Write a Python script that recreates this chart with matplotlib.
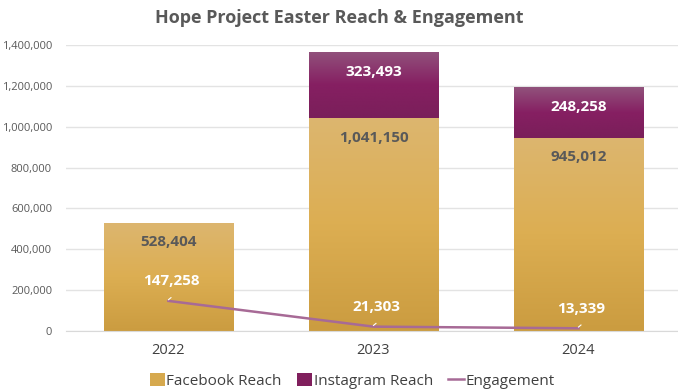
import matplotlib
matplotlib.use("Agg")
import matplotlib.pyplot as plt
import numpy as np
from matplotlib.colors import LinearSegmentedColormap
from matplotlib.patches import Patch
from matplotlib.lines import Line2D

plt.rcParams['font.family'] = ['Open Sans', 'DejaVu Sans']

years = ["2022", "2023", "2024"]
facebook = [528404, 1041150, 945012]
instagram = [0, 323493, 248258]
engagement = [147258, 21303, 13339]
yticks = [0, 200000, 400000, 600000, 800000, 1000000, 1200000, 1400000]

fig = plt.figure(figsize=(6.78, 3.92), dpi=100)
ax = fig.add_axes([66/678, 61/392, 615/678, 286/392])
x = np.arange(len(years))
w = 0.63

fb_cmap = LinearSegmentedColormap.from_list("fb", ["#CB9C40", "#DCAE52", "#DDB66F"])
ig_cmap = LinearSegmentedColormap.from_list("ig", ["#7A1F5A", "#861F62", "#91527C"])

def grad_bar(xc, bottom, height, cmap):
    if height <= 0:
        return
    bars = ax.bar(xc, height, w, bottom=bottom, color="none", zorder=2)
    p = bars[0]
    grad = np.linspace(0, 1, 256).reshape(-1, 1)
    im = ax.imshow(grad, cmap=cmap, aspect='auto', origin='lower',
                   extent=[xc - w/2, xc + w/2, bottom, bottom + height], zorder=2)
    im.set_clip_path(p)

for i in range(len(years)):
    grad_bar(x[i], 0, facebook[i], fb_cmap)
    grad_bar(x[i], facebook[i], instagram[i], ig_cmap)
    ax.annotate(f"{facebook[i]:,}", (x[i], facebook[i]), xytext=(0, -14),
                textcoords="offset points", ha="center", va="center",
                fontsize=11, fontweight="bold", color="#595959", zorder=5)
    if instagram[i] > 0:
        top = facebook[i] + instagram[i]
        ax.annotate(f"{instagram[i]:,}", (x[i], top), xytext=(0, -14),
                    textcoords="offset points", ha="center", va="center",
                    fontsize=11, fontweight="bold", color="white", zorder=5)

ax.plot(x, engagement, color="#A76A96", linewidth=1.8, zorder=3)
for i in range(len(years)):
    ax.plot([x[i], x[i] + 0.012], [engagement[i] + 6000, engagement[i] + 16000],
            color="white", linewidth=0.8, zorder=4)
    ax.annotate(f"{engagement[i]:,}", (x[i], engagement[i]), xytext=(2, 14),
                textcoords="offset points", ha="center", va="center",
                fontsize=11, fontweight="bold", color="white", zorder=5)

ax.set_xlim(-0.5, 2.5)
ax.set_ylim(0, 1400000)
ax.set_yticks(yticks)
ax.set_yticklabels([f"{v:,}" for v in yticks])
ax.set_xticks(x)
ax.set_xticklabels(years)
ax.tick_params(axis='y', length=0, labelsize=8, labelcolor="#595959", pad=10)
ax.tick_params(axis='x', length=0, labelsize=10.5, labelcolor="#404040", pad=9)
ax.grid(axis='y', color="#E3E3E3", linewidth=1)
ax.set_axisbelow(True)
for s in ax.spines.values():
    s.set_visible(False)
ax.spines['bottom'].set_visible(True)
ax.spines['bottom'].set_color("#D9D9D9")

fig.text(0.5, 1 - 18/392, "Hope Project Easter Reach & Engagement", ha="center", va="center",
         fontsize=13, fontweight="bold", color="#595959")

handles = [Patch(facecolor="#D6A94E", edgecolor="none"),
           Patch(facecolor="#801F5D", edgecolor="none"),
           Line2D([0], [0], color="#A76A96", linewidth=1.8)]
fig.legend(handles, ["Facebook Reach", "Instagram Reach", "Engagement"],
           loc="center", bbox_to_anchor=(352/678, 1 - 381/392), ncol=3, frameon=False,
           fontsize=11, labelcolor="#404040", handlelength=1.0, handleheight=0.9,
           handletextpad=0.1, columnspacing=1.0)

fig.savefig("out.png", dpi=100)
